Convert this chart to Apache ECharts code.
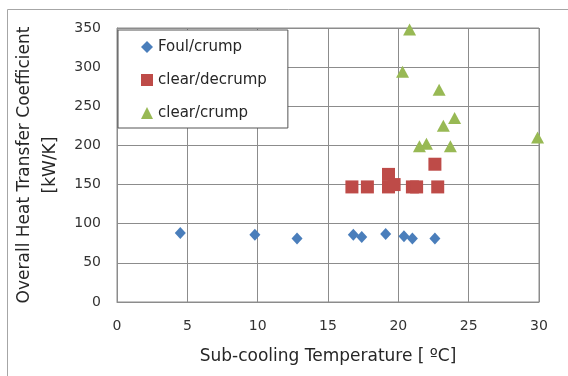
<!DOCTYPE html>
<html>
<head>
<meta charset="utf-8">
<script src="https://cdn.jsdelivr.net/npm/echarts@6/dist/echarts.min.js"></script>
<style>html,body{margin:0;padding:0;background:#fff;}#c{width:568px;height:376px;}</style>
</head>
<body>
<div id="c"></div>
<script>
const foulCrump = [[4.5,88],[9.8,86],[12.8,81],[16.8,86],[17.4,83],[19.1,87],[20.4,84],[21.0,81],[22.6,81]];
const clearDecrump = [[16.7,147],[17.8,147],[19.3,163],[19.3,147],[19.7,150],[21.0,147],[21.3,147],[22.6,176],[22.8,147]];
const clearCrump = [[20.8,348],[20.3,294],[22.9,271],[24.0,235],[23.2,225],[21.5,199],[22.0,202],[23.7,199],[29.9,210]];
const seriesNames = ['Foul/crump','clear/decrump','clear/crump'];
const xTitle = 'Sub-cooling Temperature [ ºC]';
const yTitle = 'Overall Heat Transfer Coefficient\n[kW/K]';

const font = 'DejaVu Sans';
const chart = echarts.init(document.getElementById('c'), null, {renderer:'canvas'});
const gridColor = '#8c8c8c';
chart.setOption({
  animation:false,
  backgroundColor:'#fff',
  textStyle:{fontFamily:font},
  graphic:[{type:'rect', shape:{x:7.5,y:9.5,width:600,height:400}, style:{fill:'none', stroke:'#a6a6a6', lineWidth:1}, z:-1}],
  grid:{left:117, right:29, top:28, bottom:74, show:true, borderColor:gridColor, borderWidth:1, backgroundColor:'transparent'},
  legend:{
    orient:'vertical', left:118, top:30,
    data:[{name:seriesNames[0],icon:'diamond'},{name:seriesNames[1],icon:'rect'},{name:seriesNames[2],icon:'triangle'}],
    itemWidth:12, itemHeight:12, itemGap:15,
    padding:[8,21,6,23],
    borderColor:'#555', borderWidth:1, backgroundColor:'#fff',
    textStyle:{fontFamily:font, fontSize:15, color:'#262626', lineHeight:18}
  },
  xAxis:{
    type:'value', min:0, max:30, interval:5,
    name:xTitle, nameLocation:'middle', nameGap:46,
    nameTextStyle:{fontFamily:font, fontSize:17, color:'#262626'},
    axisLine:{show:true, lineStyle:{color:gridColor}},
    axisTick:{show:false},
    axisLabel:{fontFamily:font, fontSize:14, color:'#333', margin:17},
    splitLine:{show:true, lineStyle:{color:gridColor, width:1}}
  },
  yAxis:{
    type:'value', min:0, max:350, interval:50,
    name:yTitle, nameLocation:'middle', nameGap:46,
    nameTextStyle:{fontFamily:font, fontSize:17, color:'#262626', lineHeight:26, align:'center'},
    axisLine:{show:true, lineStyle:{color:gridColor}},
    axisTick:{show:false},
    axisLabel:{fontFamily:font, fontSize:14, color:'#333', margin:16},
    splitLine:{show:true, lineStyle:{color:gridColor, width:1}}
  },
  series:[
    {name:seriesNames[0], type:'scatter', data:foulCrump, symbol:'diamond', symbolSize:[11,12], itemStyle:{color:'#4a7ebb', opacity:1}},
    {name:seriesNames[1], type:'scatter', data:clearDecrump, symbol:'rect', symbolSize:13, itemStyle:{color:'#be4b48', opacity:1}},
    {name:seriesNames[2], type:'scatter', data:clearCrump, symbol:'triangle', symbolSize:[13,12], itemStyle:{color:'#98b954', opacity:1}}
  ]
});
</script>
</body>
</html>
